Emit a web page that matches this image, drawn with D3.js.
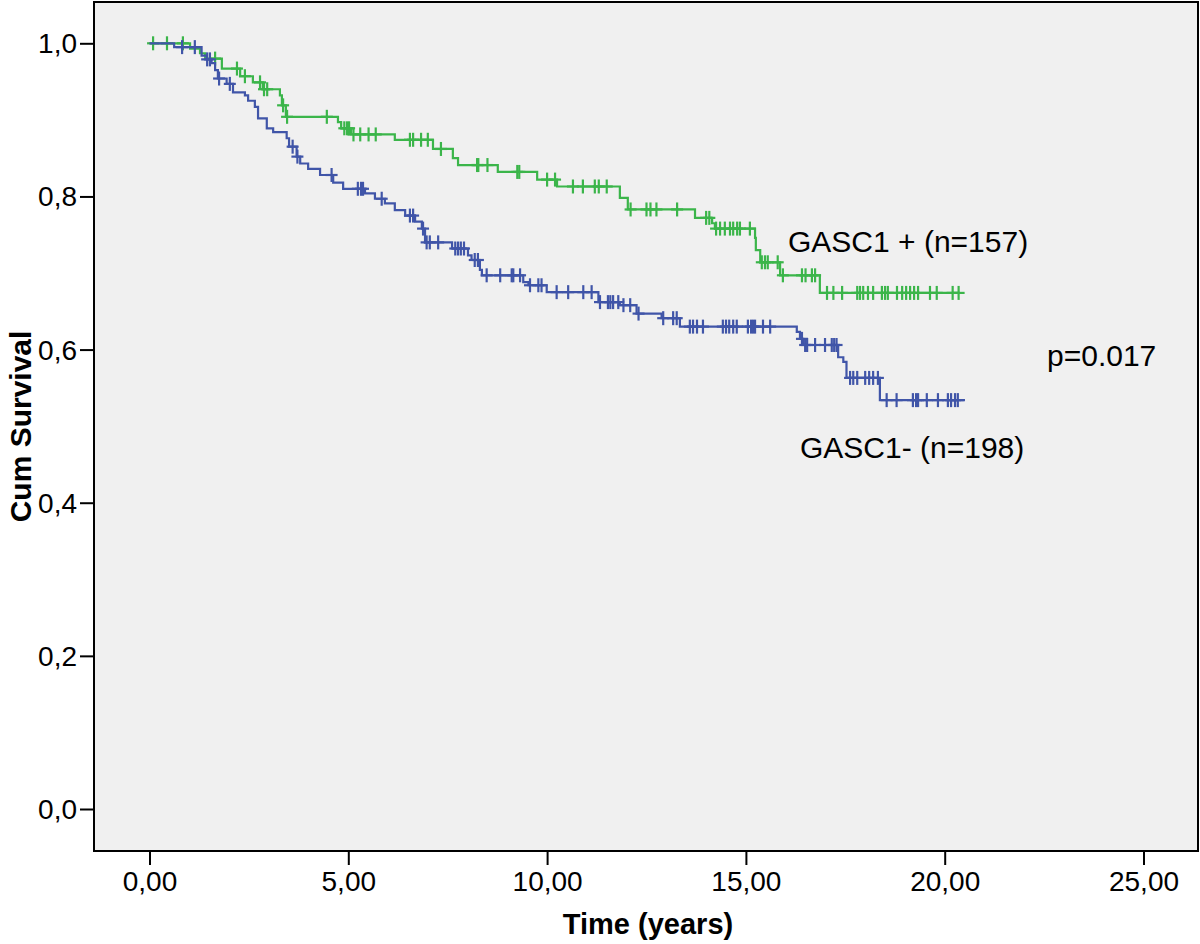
<!DOCTYPE html>
<html>
<head>
<meta charset="utf-8">
<script src="https://cdn.jsdelivr.net/npm/d3@7"></script>
<style>
  html, body { margin: 0; padding: 0; background: #ffffff; }
  svg { display: block; }
  text { font-family: "Liberation Sans", Arial, Helvetica, sans-serif; fill: #000; }
</style>
</head>
<body>
<svg id="chart" width="1200" height="944"></svg>
<script>
// ---------------- Data ----------------
const xTicks = [0, 5, 10, 15, 20, 25];
const yTicks = [0, 0.2, 0.4, 0.6, 0.8, 1.0];

// GASC1 + (n=157) : event times (years) and survival after each event
const greenEventTimes = [1.02, 1.27, 1.40, 1.82, 2.28, 2.60, 2.85, 3.28, 3.33, 3.43, 4.74, 4.82, 5.07, 6.17, 7.13, 7.63, 7.76, 8.76, 9.75, 10.25, 11.83, 12.03, 13.72, 14.15, 14.22, 15.23, 15.25, 15.36, 15.86, 16.86];
const greenEventSurv  = [0.993, 0.987, 0.980, 0.967, 0.957, 0.949, 0.940, 0.932, 0.919, 0.904, 0.897, 0.889, 0.881, 0.874, 0.862, 0.850, 0.841, 0.832, 0.822, 0.813, 0.798, 0.783, 0.772, 0.765, 0.758, 0.746, 0.730, 0.714, 0.697, 0.674];
const greenCensored   = [0.09, 0.44, 0.84, 1.65, 2.20, 2.40, 2.78, 2.88, 2.96, 3.36, 3.46, 4.46, 4.90, 4.97, 5.02, 5.13, 5.30, 5.51, 5.69, 6.55, 6.63, 6.83, 7.00, 7.33, 8.24, 8.27, 8.50, 9.25, 9.30, 10.00, 10.20, 10.65, 10.90, 11.20, 11.30, 11.50, 12.10, 12.50, 12.60, 12.75, 13.27, 14.00, 14.08, 14.25, 14.35, 14.47, 14.60, 14.68, 14.78, 14.85, 15.10, 15.40, 15.48, 15.55, 15.80, 15.93, 16.41, 16.50, 16.66, 16.74, 17.04, 17.20, 17.42, 17.80, 17.87, 17.95, 18.07, 18.20, 18.42, 18.50, 18.57, 18.80, 18.93, 19.03, 19.13, 19.23, 19.33, 19.63, 19.80, 20.20, 20.35];
const greenEnd = 20.38;

// GASC1- (n=198)
const blueEventTimes = [0.62, 1.31, 1.44, 1.56, 1.65, 1.72, 1.94, 2.10, 2.40, 2.48, 2.65, 2.73, 2.95, 3.11, 3.45, 3.51, 3.70, 3.79, 3.99, 4.29, 4.62, 4.87, 5.42, 5.67, 5.92, 6.17, 6.43, 6.68, 6.85, 6.93, 7.61, 8.01, 8.10, 8.31, 8.36, 9.40, 9.53, 9.99, 11.29, 11.83, 12.25, 12.88, 13.34, 16.28, 16.36, 16.44, 17.32, 17.45, 17.53, 18.37];
const blueEventSurv  = [0.995, 0.984, 0.979, 0.974, 0.965, 0.954, 0.947, 0.936, 0.932, 0.925, 0.917, 0.902, 0.889, 0.884, 0.876, 0.865, 0.852, 0.843, 0.836, 0.828, 0.818, 0.810, 0.804, 0.797, 0.791, 0.782, 0.775, 0.767, 0.758, 0.740, 0.732, 0.723, 0.717, 0.704, 0.697, 0.688, 0.684, 0.675, 0.662, 0.658, 0.647, 0.641, 0.630, 0.623, 0.614, 0.606, 0.590, 0.584, 0.563, 0.534];
const blueCensored   = [0.82, 1.14, 1.45, 1.52, 1.75, 2.02, 3.60, 3.72, 4.58, 5.24, 5.32, 5.37, 5.84, 6.55, 6.63, 6.88, 6.97, 7.05, 7.26, 7.69, 7.76, 7.83, 7.91, 8.18, 8.26, 8.48, 8.82, 9.11, 9.15, 9.32, 9.57, 9.78, 9.86, 10.24, 10.53, 10.91, 11.12, 11.33, 11.53, 11.59, 11.66, 11.79, 11.92, 12.09, 12.30, 12.92, 13.17, 13.26, 13.59, 13.67, 13.77, 13.92, 14.42, 14.50, 14.58, 14.68, 14.77, 15.05, 15.13, 15.18, 15.23, 15.43, 15.61, 16.41, 16.49, 16.54, 16.74, 16.99, 17.16, 17.22, 17.28, 17.62, 17.70, 17.80, 18.00, 18.10, 18.20, 18.32, 18.54, 18.79, 19.20, 19.28, 19.33, 19.55, 19.83, 20.08, 20.16, 20.26, 20.33];
const blueEnd = 20.51;

const seriesLabels = ["GASC1 + (n=157)", "GASC1- (n=198)"];
const pValueLabel = "p=0.017";
const xTitle = "Time (years)";
const yTitle = "Cum Survival";

// ---------------- Layout ----------------
const frame = { left: 94, top: 2, right: 1198, bottom: 851 };
const colors = { green: "#3bb54a", blue: "#4055a8" };

const svg = d3.select("#chart");

const x = d3.scaleLinear().domain([0, 25]).range([149.5, 1143.5]);
const y = d3.scaleLinear().domain([0, 1]).range([809, 43.3]);

// plot background frame
svg.append("rect")
  .attr("x", frame.left).attr("y", frame.top)
  .attr("width", frame.right - frame.left).attr("height", frame.bottom - frame.top)
  .attr("fill", "#f0f0f0").attr("stroke", "#000").attr("stroke-width", 2);

const comma = f => (v => f(v).replace(".", ","));

// Y axis
const yAxis = svg.append("g")
  .attr("transform", `translate(${frame.left},0)`)
  .call(d3.axisLeft(y).tickValues(yTicks).tickFormat(comma(d3.format(".1f"))).tickSize(14).tickSizeOuter(0).tickPadding(3));
yAxis.select(".domain").remove();
yAxis.selectAll(".tick line").attr("stroke", "#000").attr("stroke-width", 2);
yAxis.selectAll(".tick text").attr("font-size", 28).attr("font-family", "Liberation Sans, Arial, sans-serif").attr("dy", "0.34em");

// X axis
const xAxis = svg.append("g")
  .attr("transform", `translate(0,${frame.bottom})`)
  .call(d3.axisBottom(x).tickValues(xTicks).tickFormat(comma(d3.format(".2f"))).tickSize(14).tickSizeOuter(0).tickPadding(6));
xAxis.select(".domain").remove();
xAxis.selectAll(".tick line").attr("stroke", "#000").attr("stroke-width", 2);
xAxis.selectAll(".tick text").attr("font-size", 28).attr("font-family", "Liberation Sans, Arial, sans-serif");

// Axis titles
svg.append("text")
  .attr("x", 648).attr("y", 934)
  .attr("text-anchor", "middle").attr("font-size", 29).attr("font-weight", "bold")
  .text(xTitle);
svg.append("text")
  .attr("transform", `translate(31,${(frame.top + frame.bottom) / 2}) rotate(-90)`)
  .attr("text-anchor", "middle").attr("font-size", 30).attr("font-weight", "bold")
  .text(yTitle);

// ---------------- Curves ----------------
function stepPoints(times, surv, end) {
  const pts = [[0, 1]];
  times.forEach((t, i) => pts.push([t, surv[i]]));
  pts.push([end, surv[surv.length - 1]]);
  return pts;
}
function survAt(times, surv, t) {
  let s = 1;
  for (let i = 0; i < times.length; i++) { if (times[i] <= t) s = surv[i]; else break; }
  return s;
}

const line = d3.line().x(d => x(d[0])).y(d => y(d[1])).curve(d3.curveStepAfter);

function drawSeries(times, surv, censored, end, color) {
  const g = svg.append("g");
  g.append("path")
    .datum(stepPoints(times, surv, end))
    .attr("d", line)
    .attr("fill", "none").attr("stroke", color).attr("stroke-width", 2.2);
  const marks = g.selectAll("g.cens").data(censored).enter().append("g")
    .attr("transform", t => `translate(${x(t)},${y(survAt(times, surv, t))})`);
  marks.append("line").attr("x1", 0).attr("x2", 0).attr("y1", -7).attr("y2", 7)
    .attr("stroke", color).attr("stroke-width", 2.2);
  marks.append("line").attr("x1", -6).attr("x2", 6).attr("y1", 0).attr("y2", 0)
    .attr("stroke", color).attr("stroke-width", 2.2);
}

drawSeries(greenEventTimes, greenEventSurv, greenCensored, greenEnd, colors.green);
drawSeries(blueEventTimes, blueEventSurv, blueCensored, blueEnd, colors.blue);

// Annotations
svg.append("text").attr("x", 788).attr("y", 252).attr("font-size", 30).text(seriesLabels[0]);
svg.append("text").attr("x", 800).attr("y", 458).attr("font-size", 30).text(seriesLabels[1]);
svg.append("text").attr("x", 1047).attr("y", 366).attr("font-size", 30).text(pValueLabel);
</script>
</body>
</html>
